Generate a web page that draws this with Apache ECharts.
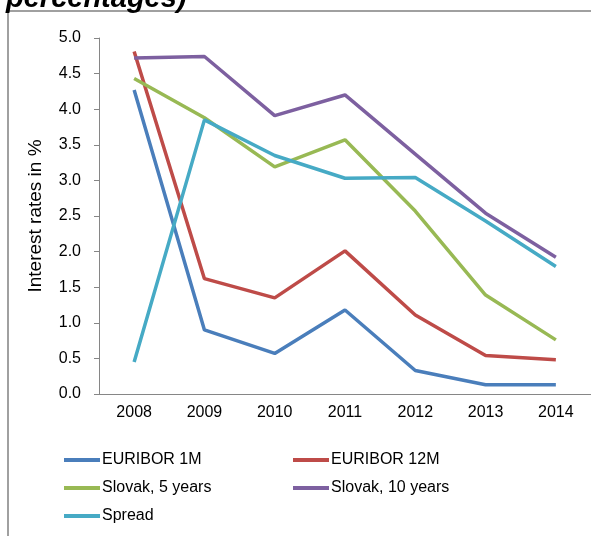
<!DOCTYPE html>
<html>
<head>
<meta charset="utf-8">
<script src="https://cdn.jsdelivr.net/npm/echarts@6/dist/echarts.min.js"></script>
<style>
  html, body { margin: 0; padding: 0; background: #fff; }
  #chart { width: 591px; height: 536px; }
</style>
</head>
<body>
<div id="chart"></div>
<script>
const years = ['2008', '2009', '2010', '2011', '2012', '2013', '2014']
const euribor1m = [4.27, 0.90, 0.57, 1.18, 0.33, 0.13, 0.13]
const euribor12m = [4.81, 1.62, 1.35, 2.01, 1.11, 0.54, 0.48]
const slovak5 = [4.43, 3.88, 3.19, 3.57, 2.57, 1.39, 0.76]
const slovak10 = [4.72, 4.74, 3.91, 4.20, 3.37, 2.54, 1.92]
const spread = [0.45, 3.85, 3.35, 3.03, 3.04, 2.43, 1.79]

const font = 'Liberation Sans'
const axisColor = '#868686'

function line(name, data, color) {
  return {
    name,
    type: 'line',
    data,
    symbol: 'none',
    lineStyle: { width: 3.5, color },
    itemStyle: { color },
    animation: false
  }
}

const legendBase = {
  orient: 'vertical',
  top: 447,
  icon: 'rect',
  itemWidth: 36,
  itemHeight: 4,
  itemGap: 12,
  textStyle: { fontSize: 16, color: '#000', fontFamily: font, padding: [0, 0, 0, -3] }
}

const chart = echarts.init(document.getElementById('chart'))

chart.setOption({
  textStyle: { fontFamily: font },
  graphic: [
    { type: 'line', shape: { x1: 8, y1: 11, x2: 591, y2: 11 }, style: { stroke: '#a0a0a0', lineWidth: 2 } },
    { type: 'line', shape: { x1: 8, y1: 11, x2: 8, y2: 536 }, style: { stroke: '#a0a0a0', lineWidth: 2 } },
    {
      type: 'text', left: 6, top: -16,
      style: { text: 'percentages)', font: 'italic bold 29px "Liberation Sans"', fill: '#000' }
    }
  ],
  grid: { left: 99, right: 0, top: 38, bottom: 142 },
  legend: [
    Object.assign({ left: 59, data: ['EURIBOR 1M', 'Slovak, 5 years', 'Spread'] }, legendBase),
    Object.assign({ left: 288, data: ['EURIBOR 12M', 'Slovak, 10 years'] }, legendBase)
  ],
  xAxis: {
    type: 'category',
    data: years,
    axisLine: { lineStyle: { color: axisColor, width: 1 } },
    axisTick: { length: 5, lineStyle: { color: axisColor } },
    axisLabel: { fontSize: 16, color: '#000', margin: 11 }
  },
  yAxis: {
    type: 'value',
    min: 0,
    max: 5,
    interval: 0.5,
    name: 'Interest rates in %',
    nameLocation: 'middle',
    nameGap: 54,
    nameRotate: 90,
    nameTextStyle: { fontSize: 19, color: '#000' },
    axisLine: { show: true, lineStyle: { color: axisColor, width: 1 } },
    axisTick: { show: true, length: 5, lineStyle: { color: axisColor } },
    splitLine: { show: false },
    axisLabel: {
      fontSize: 16,
      color: '#000',
      margin: 18,
      formatter: v => v.toFixed(1)
    }
  },
  series: [
    line('EURIBOR 1M', euribor1m, '#4A7EBB'),
    line('EURIBOR 12M', euribor12m, '#BE4B48'),
    line('Slovak, 5 years', slovak5, '#98B954'),
    line('Slovak, 10 years', slovak10, '#7D60A0'),
    line('Spread', spread, '#46AAC5')
  ]
})
</script>
</body>
</html>
